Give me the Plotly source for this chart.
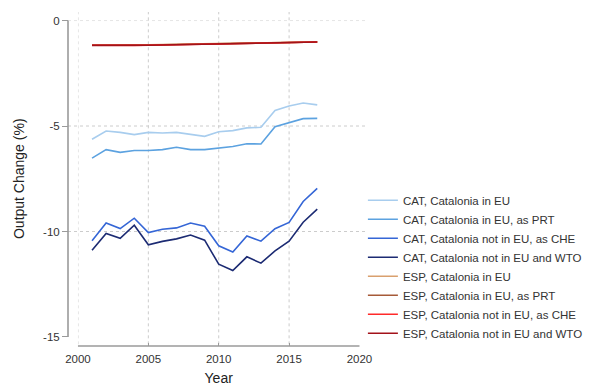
import plotly.graph_objects as go

years = list(range(2001, 2018))

cat_eu = [-5.63, -5.24, -5.30, -5.41, -5.30, -5.33, -5.30, -5.40, -5.49, -5.27, -5.22, -5.09, -5.06, -4.26, -4.05, -3.91, -4.00]
cat_prt = [-6.52, -6.12, -6.25, -6.16, -6.16, -6.12, -6.01, -6.12, -6.12, -6.04, -5.97, -5.84, -5.85, -5.03, -4.83, -4.65, -4.64]
cat_che = [-10.44, -9.60, -9.86, -9.37, -10.05, -9.89, -9.83, -9.60, -9.75, -10.68, -10.97, -10.21, -10.46, -9.87, -9.57, -8.58, -7.96]
cat_wto = [-10.89, -10.09, -10.32, -9.70, -10.63, -10.47, -10.35, -10.17, -10.41, -11.55, -11.85, -11.20, -11.50, -10.92, -10.46, -9.56, -8.94]
esp_eu = [-1.16, -1.16, -1.18, -1.17, -1.15, -1.14, -1.13, -1.12, -1.10, -1.08, -1.07, -1.06, -1.06, -1.04, -1.03, -1.02, -1.01]
esp_prt = [-1.17, -1.17, -1.19, -1.18, -1.16, -1.15, -1.14, -1.13, -1.11, -1.09, -1.08, -1.07, -1.07, -1.05, -1.04, -1.03, -1.02]
esp_che = [-1.17, -1.18, -1.19, -1.18, -1.17, -1.16, -1.15, -1.13, -1.11, -1.09, -1.08, -1.07, -1.07, -1.05, -1.04, -1.03, -1.02]
esp_wto = [-1.18, -1.18, -1.20, -1.19, -1.17, -1.16, -1.15, -1.14, -1.12, -1.09, -1.08, -1.07, -1.07, -1.05, -1.04, -1.03, -1.02]

series_names = [
    "CAT, Catalonia in EU",
    "CAT, Catalonia in EU, as PRT",
    "CAT, Catalonia not in EU, as CHE",
    "CAT, Catalonia not in EU and WTO",
    "ESP, Catalonia in EU",
    "ESP, Catalonia in EU, as PRT",
    "ESP, Catalonia not in EU, as CHE",
    "ESP, Catalonia not in EU and WTO",
]
series_values = [cat_eu, cat_prt, cat_che, cat_wto, esp_eu, esp_prt, esp_che, esp_wto]
colors = ["#a8cdee", "#5ca2e0", "#3566d6", "#1c2b73", "#d9a06e", "#a65a38", "#ff2a2a", "#a3121a"]

x_ticks = [2000, 2005, 2010, 2015, 2020]
y_ticks = [0, -5, -10, -15]
y_ticklabels = ["0", "-5", "-10", "-15"]

x_domain = [0.0332, 0.9716]
y_domain = [0.027, 0.9745]

fig = go.Figure()
for name, vals, col in zip(series_names, series_values, colors):
    fig.add_trace(go.Scatter(x=years, y=vals, mode="lines", name=name,
                             line=dict(color=col, width=1.6)))

shapes = []
grid_col = "#cccccc"
for xv in x_ticks[:-1]:
    shapes.append(dict(type="line", xref="x", yref="paper", x0=xv, x1=xv, y0=0.005, y1=1,
                       line=dict(color=grid_col, width=1, dash="dot"), layer="below"))
for yv in y_ticks[:-1]:
    shapes.append(dict(type="line", xref="paper", yref="y", x0=0, x1=1, y0=yv, y1=yv,
                       line=dict(color=grid_col, width=1, dash="dot"), layer="below"))

axis_col = "#9a9a9a"
# Stata-style offset axis lines (paper refs, spanning the axis domains)
shapes.append(dict(type="line", xref="paper", yref="paper", x0=x_domain[0], x1=x_domain[1], y0=0, y1=0,
                   line=dict(color=axis_col, width=1.6), layer="above"))
shapes.append(dict(type="line", xref="paper", yref="paper", x0=0, x1=0, y0=y_domain[0], y1=y_domain[1],
                   line=dict(color=axis_col, width=1.6), layer="above"))

# page body has an 8px margin: compensate so the figure lands where the reference is
fig.update_layout(
    width=594, height=383,
    margin=dict(l=60, r=234, t=4, b=45, autoexpand=False),
    paper_bgcolor="white", plot_bgcolor="white",
    font=dict(family="Liberation Sans, Arial, sans-serif", color="#333333"),
    shapes=shapes,
    showlegend=True,
    legend=dict(x=0.983, xanchor="left", y=0.48, yanchor="top",
                font=dict(size=11.5, color="#333333"), bgcolor="rgba(0,0,0,0)",
                tracegroupgap=0),
    xaxis=dict(domain=x_domain, range=[2000, 2020], tickvals=x_ticks,
               anchor="free", position=0,
               showgrid=False, zeroline=False, showline=False,
               ticks="inside", ticklen=3, tickcolor=axis_col, tickwidth=1.2,
               ticklabelstandoff=4,
               tickfont=dict(size=11.5, color="#333333"),
               title=dict(text="Year", font=dict(size=14, color="#222222"), standoff=9)),
    yaxis=dict(domain=y_domain, range=[-15, 0], tickvals=y_ticks, ticktext=y_ticklabels,
               anchor="free", position=0,
               showgrid=False, zeroline=False, showline=False,
               ticks="outside", ticklen=6, tickcolor=axis_col, tickwidth=1.2,
               tickfont=dict(size=11.5, color="#333333"),
               title=dict(text="Output Change (%)", font=dict(size=14, color="#222222"), standoff=14)),
)

fig.write_html("out.html")
